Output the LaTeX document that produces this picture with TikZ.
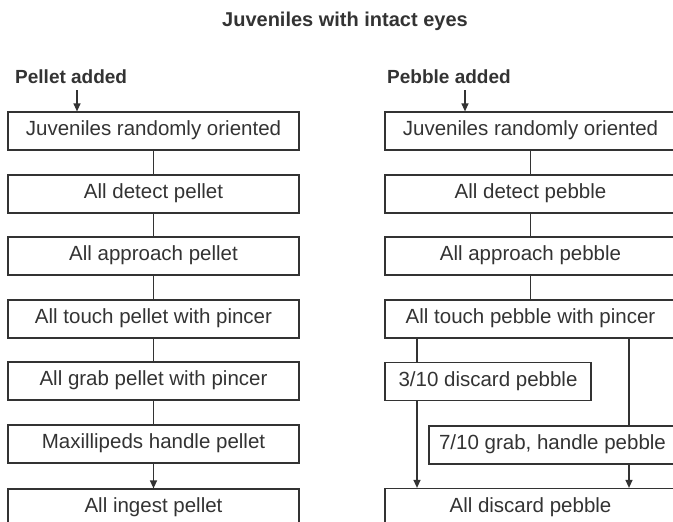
\documentclass[tikz,border=0pt]{standalone}
\usepackage{fontspec}
\setmainfont{Liberation Sans}
\setsansfont{Liberation Sans}
\usetikzlibrary{arrows.meta}
\definecolor{ink}{HTML}{333333}
\tikzset{
	stage/.style={draw=ink, line width=1.2pt, minimum width=291pt, minimum height=38pt, inner sep=0pt, text height=0.95em, text depth=0pt, font=\sffamily\fontsize{20.5}{22}\selectfont},
	cue/.style={inner sep=0pt, anchor=base west, font=\sffamily\fontsize{19}{21}\selectfont\bfseries},
	link/.style={draw=ink, line width=1.2pt},
	arr/.style={link, -{Triangle[length=8pt,width=7pt]}}
	}
\begin{document}
\begin{tikzpicture}[x=1pt, y=-1pt, font=\sffamily, text=ink]

	\useasboundingbox (0,0) rectangle (673,522);

	% title
	\node[inner sep=0pt, anchor=base, font=\sffamily\fontsize{20}{22}\selectfont\bfseries] (title) at (345,27) {Juveniles with intact eyes};

	% pellet side
	\node[cue] (pa) at (15,83) {Pellet added};
	\node[stage] (j1) at (153.5,131) {Juveniles randomly oriented};
	\node[stage] (j2) at (153.5,194) {All detect pellet};
	\node[stage] (j3) at (153.5,256) {All approach pellet};
	\node[stage] (j4) at (153.5,319) {All touch pellet with pincer};
	\node[stage] (j5) at (153.5,381) {All grab pellet with pincer};
	\node[stage] (j6) at (153.5,444) {Maxillipeds handle pellet};
	\node[stage] (j7) at (153.5,508) {All ingest pellet};

	\coordinate (ptop) at (77,90);
	\draw[arr] (ptop) -- (ptop |- j1.north);
	\draw[link] (j1) -- (j2) (j2) -- (j3) (j3) -- (j4) (j4) -- (j5) (j5) -- (j6);
	\draw[arr] (j6.south) -- (j7.north);

	% pebble side
	\node[cue] (ba) at (387,83) {Pebble added};
	\node[stage] (k1) at (530.5,131) {Juveniles randomly oriented};
	\node[stage] (k2) at (530.5,194) {All detect pebble};
	\node[stage] (k3) at (530.5,256) {All approach pebble};
	\node[stage] (k4) at (530.5,319) {All touch pebble with pincer};
	\node[stage, minimum width=206pt] (d3) at (488,381.5) {3/10 discard pebble};
	\node[stage, minimum width=247pt] (g7) at (552.5,445) {7/10 grab, handle pebble};
	\node[stage] (k5) at (530.5,507.5) {All discard pebble};

	\coordinate (btop) at (465,90);
	\draw[arr] (btop) -- (btop |- k1.north);
	\draw[link] (k1) -- (k2) (k2) -- (k3) (k3) -- (k4);

	% split after touching
	\coordinate (lx) at (417,0);
	\coordinate (rx) at (629,0);
	\draw[link] (k4.south -| lx) -- (d3.north -| lx);
	\draw[arr] (d3.south -| lx) -- (k5.north -| lx);
	\draw[link] (k4.south -| rx) -- (g7.north -| rx);
	\draw[arr] (g7.south -| rx) -- (k5.north -| rx);

\end{tikzpicture}
\end{document}
